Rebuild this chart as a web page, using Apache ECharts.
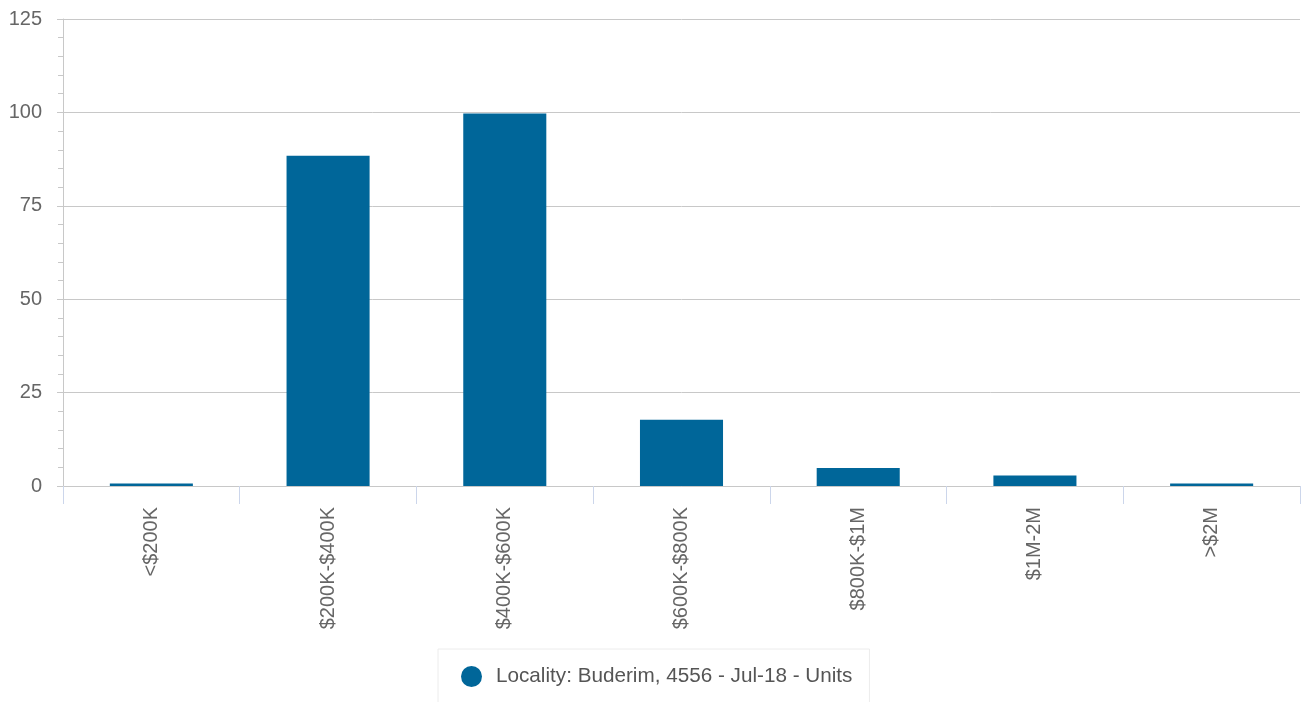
<!DOCTYPE html>
<html><head><meta charset="utf-8">
<script src="https://cdn.jsdelivr.net/npm/echarts@6/dist/echarts.min.js"></script>
<style>html,body{margin:0;padding:0;background:#fff}#c{width:1303px;height:702px}</style>
</head><body><div id="c"></div>
<script>
const categories = ['<$200K', '$200K-$400K', '$400K-$600K', '$600K-$800K', '$800K-$1M', '$1M-2M', '>$2M'];
const values = [0.7, 88.4, 99.7, 17.7, 4.8, 2.8, 0.7];
const seriesName = 'Locality: Buderim, 4556 - Jul-18 - Units';
const yTicks = [0, 25, 50, 75, 100, 125];

const chart = echarts.init(document.getElementById('c'));
chart.setOption({
  animation: false,
  textStyle: { fontFamily: 'Liberation Sans, Arial, sans-serif' },
  grid: { left: 63, right: 3, top: 19, bottom: 216, containLabel: false },
  legend: {
    top: 649, left: 438,
    data: [{ name: seriesName, icon: 'circle' }],
    itemWidth: 21, itemHeight: 21, itemGap: 10,
    padding: [17, 17, 22, 23],
    borderColor: '#ececec', borderWidth: 1, borderRadius: 0,
    textStyle: { fontSize: 20.7, color: '#555', padding: [0, 0, 0, 9] }
  },
  xAxis: {
    type: 'category', data: categories,
    axisLine: { show: true, lineStyle: { color: '#c8c8c8', width: 1 } },
    axisTick: { show: true, length: 18, lineStyle: { color: '#ccd6eb' } },
    axisLabel: { rotate: 90, fontSize: 20, color: '#666', margin: 21 }
  },
  yAxis: {
    type: 'value', min: 0, max: 125, interval: 25,
    axisLine: { show: true, lineStyle: { color: '#c8c8c8' } },
    axisTick: { show: true, length: 6, lineStyle: { color: '#c8c8c8' } },
    minorTick: { show: true, splitNumber: 5, length: 5, lineStyle: { color: '#c8c8c8' } },
    splitLine: { show: true, lineStyle: { color: '#c8c8c8' } },
    axisLabel: { fontSize: 20, color: '#666', margin: 21,
      formatter: v => yTicks.includes(v) ? String(v) : '' }
  },
  series: [{
    name: seriesName, type: 'bar', data: values,
    barWidth: '47%',
    itemStyle: { color: '#006699' }
  }]
});
</script></body></html>
